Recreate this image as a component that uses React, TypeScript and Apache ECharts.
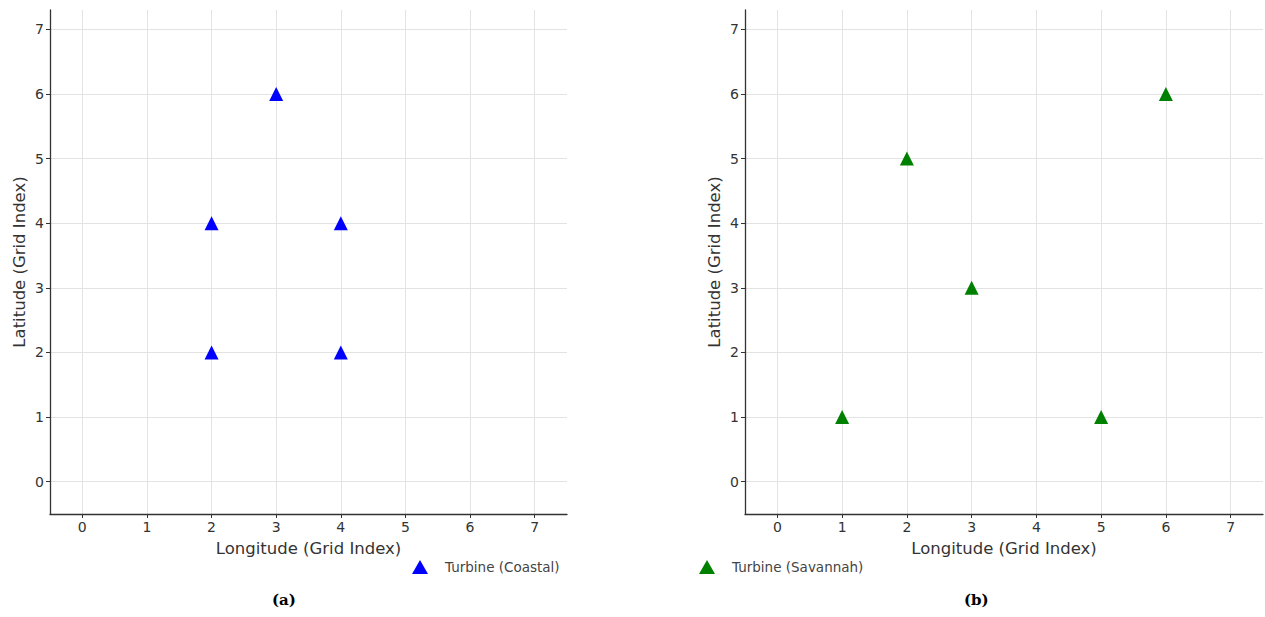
import React, { useEffect, useRef } from "react";
import * as echarts from "echarts";

const coastalLon = [3, 2, 4, 2, 4];
const coastalLat = [6, 4, 4, 2, 2];
const savannahLon = [2, 6, 3, 1, 5];
const savannahLat = [5, 6, 3, 1, 1];
const tickValues = [0, 1, 2, 3, 4, 5, 6, 7];
const seriesNames = ["Turbine (Coastal)", "Turbine (Savannah)"];
const captions = ["(a)", "(b)"];
const xName = "Longitude (Grid Index)";
const yName = "Latitude (Grid Index)";

const FONT = "DejaVu Sans";

function baseAxis(gridIndex: number, min: number, max: number, name: string) {
  return {
    type: "value",
    gridIndex,
    min,
    max,
    name,
    nameLocation: "middle",
    nameTextStyle: { fontFamily: FONT, fontSize: 16.5, color: "#333" },
    axisLine: { show: true, onZero: false, lineStyle: { color: "#333", width: 1.3 } },
    axisTick: { show: true, length: 4, customValues: tickValues, lineStyle: { color: "#333" } },
    axisLabel: {
      fontFamily: FONT,
      fontSize: 14,
      color: "#333",
      margin: 6,
      customValues: tickValues,
    },
    splitLine: { show: true, lineStyle: { color: "#e3e3e3", width: 1 } },
  };
}

export default function App() {
  const ref = useRef<HTMLDivElement>(null);
  useEffect(() => {
    document.body.style.margin = "0";
    if (!ref.current) return;
    const chart = echarts.init(ref.current, undefined, { renderer: "svg" });
    const legendText = { fontFamily: FONT, fontSize: 13.5, color: "#444", padding: [0, 0, 0, 12] };
    chart.setOption({
      animation: false,
      backgroundColor: "#ffffff",
      grid: [
        { left: 50, top: 10, width: 517, height: 504 },
        { left: 745, top: 10, width: 518, height: 504 },
      ],
      xAxis: [0, 1].map((i) => ({ ...baseAxis(i, -0.5, 7.5, xName), nameGap: 26 })),
      yAxis: [0, 1].map((i) => ({ ...baseAxis(i, -0.5, 7.3, yName), nameGap: 22, nameRotate: 90 })),
      legend: [
        {
          data: [seriesNames[0]],
          left: 407,
          top: 555,
          itemWidth: 16,
          itemHeight: 14,
          textStyle: legendText,
        },
        {
          data: [seriesNames[1]],
          left: 694,
          top: 555,
          itemWidth: 16,
          itemHeight: 14,
          textStyle: legendText,
        },
      ],
      series: [
        {
          name: seriesNames[0],
          type: "scatter",
          xAxisIndex: 0,
          yAxisIndex: 0,
          symbol: "triangle",
          symbolSize: 14,
          itemStyle: { color: "#0000ff", opacity: 1 },
          data: coastalLon.map((x, i) => [x, coastalLat[i]]),
        },
        {
          name: seriesNames[1],
          type: "scatter",
          xAxisIndex: 1,
          yAxisIndex: 1,
          symbol: "triangle",
          symbolSize: 14,
          itemStyle: { color: "#008000", opacity: 1 },
          data: savannahLon.map((x, i) => [x, savannahLat[i]]),
        },
      ],
      graphic: [
        {
          type: "text",
          left: 272,
          top: 592,
          style: { text: captions[0], font: "bold 15px 'DejaVu Serif'", fill: "#000" },
        },
        {
          type: "text",
          left: 964,
          top: 592,
          style: { text: captions[1], font: "bold 15px 'DejaVu Serif'", fill: "#000" },
        },
      ],
    });
    return () => chart.dispose();
  }, []);
  return <div ref={ref} style={{ width: 1265, height: 617 }} />;
}
